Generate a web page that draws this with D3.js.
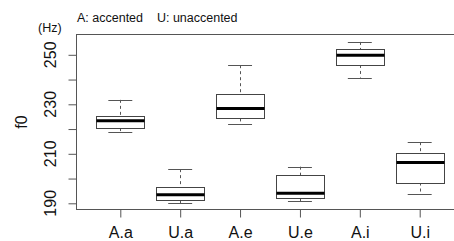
<!DOCTYPE html>
<html>
<head>
<meta charset="utf-8">
<script src="https://cdn.jsdelivr.net/npm/d3@7"></script>
<style>
  body { margin: 0; background: #fff; }
  text { font-family: "Liberation Sans", Arial, sans-serif; fill: #111; }
</style>
</head>
<body>
<script>
var width = 454, height = 241;

// groups and five-number summaries (Hz)
var groups = ["A.a", "U.a", "A.e", "U.e", "A.i", "U.i"];
var lowWhisker = [218.9, 190.0, 221.9, 190.9, 240.8, 193.9];
var q1 =         [220.4, 191.3, 224.3, 192.1, 245.9, 198.4];
var medians =    [223.4, 193.5, 228.3, 194.1, 249.8, 206.5];
var q3 =         [225.4, 196.5, 234.3, 201.3, 252.3, 210.3];
var highWhisker =[231.8, 203.8, 245.8, 204.8, 255.2, 214.7];
var yTicks = [190, 200, 210, 220, 230, 240, 250];
var yLabels = [190, 210, 230, 250];

var plot = {left: 76, top: 34.5, bottom: 209.5};

var svg = d3.select("body").append("svg")
    .attr("width", width)
    .attr("height", height);

// R style: 0.5..n+0.5 widened by 4%
var x = d3.scaleLinear().domain([0.26, 6.74]).range([plot.left, 464]);
var y = d3.scaleLinear().domain([187.5, 258.2]).range([plot.bottom, plot.top]);

var boxW = x(1.8) - x(1);   // boxwex 0.8
var capW = boxW / 2;

// frame (right side falls outside the picture)
svg.append("rect")
    .attr("x", plot.left + 0.5).attr("y", plot.top)
    .attr("width", 464 - plot.left).attr("height", plot.bottom - plot.top)
    .attr("fill", "none").attr("stroke", "#555").attr("stroke-width", 1);

var data = groups.map(function(g, i) {
  return {name: g, pos: i + 1, lo: lowWhisker[i], q1: q1[i], med: medians[i], q3: q3[i], hi: highWhisker[i]};
});

var box = svg.selectAll(".box").data(data).enter().append("g").attr("class", "box");

// whiskers
box.append("line")
    .attr("x1", function(d) { return Math.round(x(d.pos)) + 0.5; })
    .attr("x2", function(d) { return Math.round(x(d.pos)) + 0.5; })
    .attr("y1", function(d) { return y(d.hi); })
    .attr("y2", function(d) { return y(d.q3); })
    .attr("stroke", "#555").attr("stroke-dasharray", "3,3");
box.append("line")
    .attr("x1", function(d) { return Math.round(x(d.pos)) + 0.5; })
    .attr("x2", function(d) { return Math.round(x(d.pos)) + 0.5; })
    .attr("y1", function(d) { return y(d.q1); })
    .attr("y2", function(d) { return y(d.lo); })
    .attr("stroke", "#555").attr("stroke-dasharray", "3,3");

// staples
box.selectAll(".cap").data(function(d) { return [{p: d.pos, v: d.hi}, {p: d.pos, v: d.lo}]; })
  .enter().append("line")
    .attr("x1", function(d) { return x(d.p) - capW / 2; })
    .attr("x2", function(d) { return x(d.p) + capW / 2; })
    .attr("y1", function(d) { return Math.round(y(d.v)) + 0.5; })
    .attr("y2", function(d) { return Math.round(y(d.v)) + 0.5; })
    .attr("stroke", "#555");

// boxes
box.append("rect")
    .attr("x", function(d) { return Math.round(x(d.pos) - boxW / 2) + 0.5; })
    .attr("y", function(d) { return Math.round(y(d.q3)) + 0.5; })
    .attr("width", Math.round(boxW))
    .attr("height", function(d) { return Math.round(y(d.q1)) - Math.round(y(d.q3)); })
    .attr("fill", "#fff").attr("stroke", "#444");

// medians
box.append("line")
    .attr("x1", function(d) { return Math.round(x(d.pos) - boxW / 2) + 0.5; })
    .attr("x2", function(d) { return Math.round(x(d.pos) - boxW / 2) + 0.5 + Math.round(boxW); })
    .attr("y1", function(d) { return y(d.med); })
    .attr("y2", function(d) { return y(d.med); })
    .attr("stroke", "#000").attr("stroke-width", 3);

// y axis
var yAxis = svg.append("g")
    .attr("transform", "translate(" + (plot.left + 0.5) + ",0)")
    .call(d3.axisLeft(y).tickValues(yTicks).tickSize(8).tickFormat(""));
yAxis.select(".domain").remove();
yAxis.selectAll("line").attr("stroke", "#555");

svg.selectAll(".ylab").data(yLabels).enter().append("text")
    .attr("class", "ylab")
    .attr("transform", function(d) { return "translate(56," + y(d) + ") rotate(-90)"; })
    .attr("text-anchor", "middle")
    .style("font-size", "16px")
    .text(function(d) { return d; });

// x axis
var xAxis = svg.append("g")
    .attr("transform", "translate(0," + (plot.bottom) + ")")
    .call(d3.axisBottom(x).tickValues(data.map(function(d) { return d.pos; })).tickSize(8)
      .tickFormat(function(d) { return groups[d - 1]; }));
xAxis.select(".domain").remove();
xAxis.selectAll("line").attr("stroke", "#555");
xAxis.selectAll("text")
    .attr("y", 17)
    .attr("dy", "0.71em")
    .style("font-size", "16px")
    .style("font-family", "'Liberation Sans', Arial, sans-serif")
    .attr("fill", "#111");

// titles
svg.append("text")
    .attr("transform", "translate(27," + ((plot.top + plot.bottom) / 2) + ") rotate(-90)")
    .attr("text-anchor", "middle")
    .style("font-size", "16px")
    .text("f0");

svg.append("text")
    .attr("x", 38).attr("y", 32)
    .style("font-size", "12.5px")
    .text("(Hz)");

svg.append("text")
    .attr("x", 77).attr("y", 21.5)
    .style("font-size", "12.5px")
    .attr("xml:space", "preserve")
    .style("white-space", "pre")
    .text("A: accented    U: unaccented");
</script>
</body>
</html>
